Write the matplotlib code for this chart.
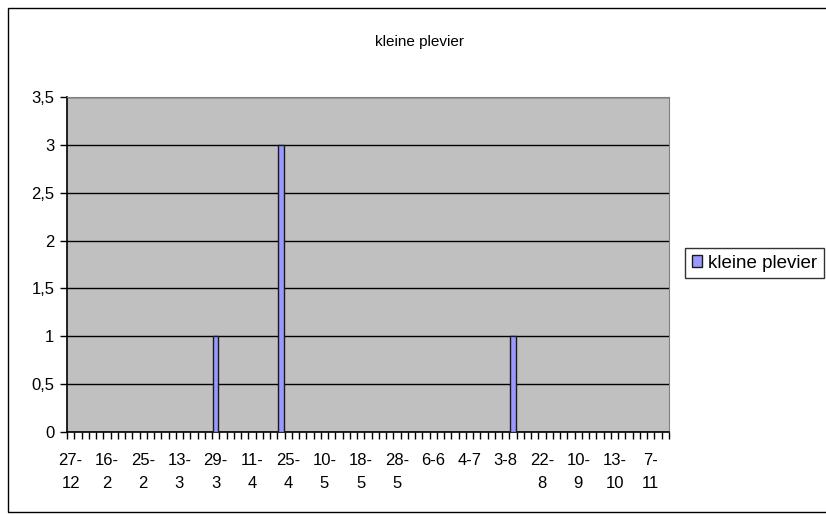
import matplotlib
matplotlib.use('Agg')
import matplotlib.pyplot as plt
import numpy as np
from matplotlib.patches import Rectangle

plt.rcParams['font.family'] = ['Liberation Sans', 'DejaVu Sans']

#data
title = 'kleine plevier'
series_name = 'kleine plevier'
# one value per date on the axis, only every 5th date gets a label
counts = [0, 0, 0, 0, 0, 0, 0, 0, 0, 0,
          0, 0, 0, 0, 0, 0, 0, 0, 0, 0,
          1, 0, 0, 0, 0, 0, 0, 0, 0, 3,
          0, 0, 0, 0, 0, 0, 0, 0, 0, 0,
          0, 0, 0, 0, 0, 0, 0, 0, 0, 0,
          0, 0, 0, 0, 0, 0, 0, 0, 0, 0,
          0, 1, 0, 0, 0, 0, 0, 0, 0, 0,
          0, 0, 0, 0, 0, 0, 0, 0, 0, 0,
          0, 0, 0]
tick_labels = ['27-\n12', '16-\n2', '25-\n2', '13-\n3', '29-\n3', '11-\n4', '25-\n4',
               '10-\n5', '18-\n5', '28-\n5', '6-6', '4-7', '3-8', '22-\n8', '10-\n9',
               '13-\n10', '7-\n11']
y_ticks = [0, 0.5, 1, 1.5, 2, 2.5, 3, 3.5]
y_labels = ['0', '0,5', '1', '1,5', '2', '2,5', '3', '3,5']

n = len(counts)
x = np.arange(n)

fig = plt.figure(figsize=(8.26, 5.15), dpi=100)
ax = fig.add_axes([67/826, 83/515, 602/826, 335/515])
ax.set_facecolor('#c0c0c0')

bars = ax.bar(x, counts, width=0.72, color='#9999ff', edgecolor='#1a1a1a',
              linewidth=1, zorder=3, label=series_name)

ax.set_xlim(-0.5, n - 0.5)
ax.set_ylim(0, 3.5)
ax.set_yticks(y_ticks)
ax.set_yticklabels(y_labels, fontsize=12)
ax.yaxis.grid(True, color='black', linewidth=1)
ax.set_axisbelow(True)

ax.set_xticks(np.arange(0, n, 5))
ax.set_xticklabels(tick_labels, fontsize=12, linespacing=1.65)
ax.set_xticks(np.arange(-0.5, n, 1), minor=True)
ax.tick_params(axis='x', which='major', length=0, pad=15)
ax.tick_params(axis='x', which='minor', length=5, width=1, direction='out')
ax.tick_params(axis='y', length=5, width=1, direction='out', pad=4)

for s in ['top', 'right']:
    ax.spines[s].set_color('#808080')
for s in ['left', 'bottom']:
    ax.spines[s].set_color('black')
    ax.spines[s].set_linewidth(1.2)

fig.text(0.508, 1 - 42/515, title, ha='center', va='center', fontsize=11)

leg = ax.legend(loc='upper left', bbox_to_anchor=(685/826, 1 - 248/515),
                bbox_transform=fig.transFigure, fontsize=13.5, fancybox=False,
                handlelength=0.55, handleheight=0.55, handletextpad=0.35,
                borderpad=0.35, borderaxespad=0)
leg.get_frame().set_edgecolor('black')
leg.get_frame().set_linewidth(1)

fig.patches.append(Rectangle((8/826, 3/515), 830/826, 504/515, transform=fig.transFigure,
                             fill=False, edgecolor='black', linewidth=1))

fig.savefig('out.png', dpi=100)
